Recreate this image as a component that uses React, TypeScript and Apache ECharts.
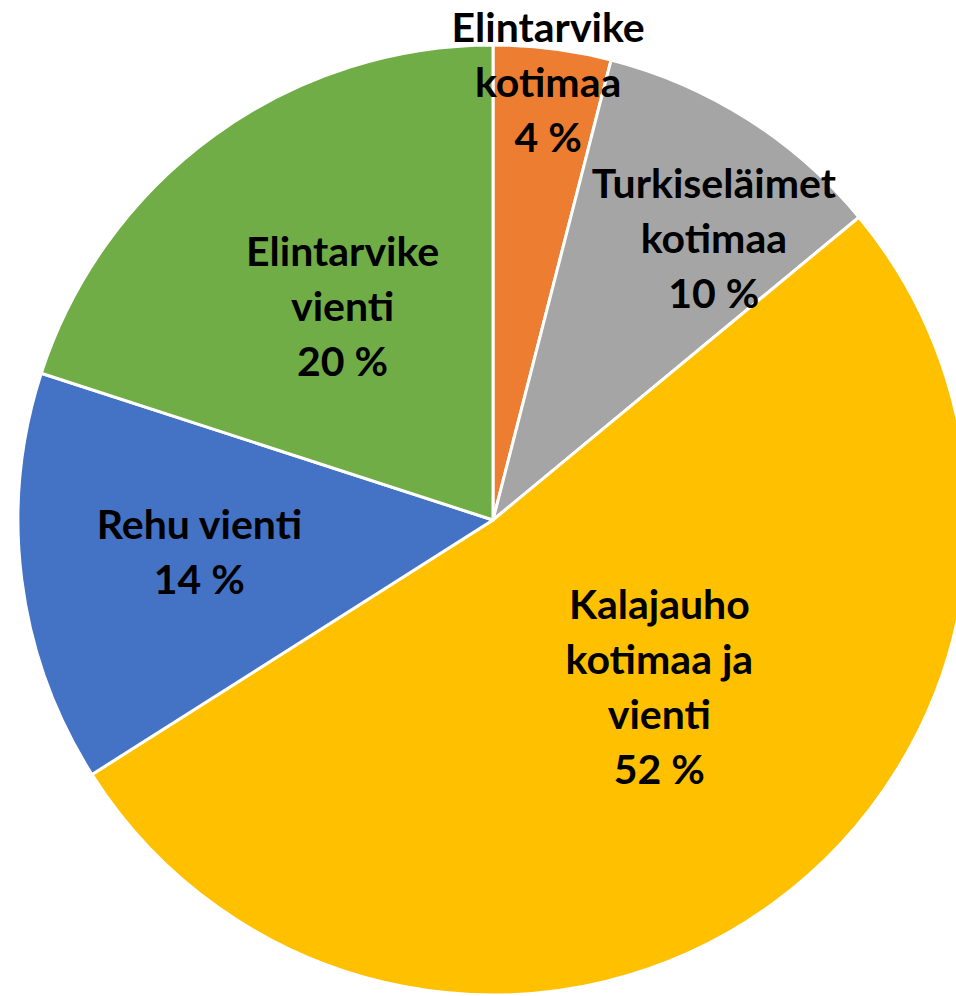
import React, { useEffect, useRef } from "react";
import * as echarts from "echarts";

const categories = [
  "Elintarvike kotimaa",
  "Turkiseläimet kotimaa",
  "Kalajauho kotimaa ja vienti",
  "Rehu vienti",
  "Elintarvike vienti",
];
const labelLines = [
  "Elintarvike\nkotimaa",
  "Turkiseläimet\nkotimaa",
  "Kalajauho\nkotimaa ja\nvienti",
  "Rehu vienti",
  "Elintarvike\nvienti",
];
const values = [4, 10, 52, 14, 20];
const colors = ["#ED7D31", "#A5A5A5", "#FFC000", "#4472C4", "#70AD47"];
const labelOffsets: [number, number][] = [
  [25, -200],
  [92, -79],
  [25, -29],
  [-55, 1],
  [-9, -20],
];

export default function App() {
  const ref = useRef<HTMLDivElement>(null);
  useEffect(() => {
    if (!ref.current) return;
    const chart = echarts.init(ref.current, undefined, { renderer: "svg" });
    chart.setOption({
      animation: false,
      backgroundColor: "#ffffff",
      series: [
        {
          type: "pie",
          center: [493, 520],
          radius: [0, 475],
          startAngle: 90,
          clockwise: true,
          avoidLabelOverlap: false,
          itemStyle: { borderColor: "#ffffff", borderWidth: 3 },
          label: {
            show: true,
            position: "inside",
            color: "#000000",
            fontFamily: "Lato",
            fontWeight: "bold",
            fontSize: 41,
            lineHeight: 55,
            align: "center",
            formatter: (p: any) => `${labelLines[p.dataIndex]}\n${p.value} %`,
          },
          labelLine: { show: false },
          labelLayout: (p: any) => ({
            dx: labelOffsets[p.dataIndex][0],
            dy: labelOffsets[p.dataIndex][1],
          }),
          emphasis: { disabled: true },
          data: categories.map((name, i) => ({
            name,
            value: values[i],
            itemStyle: { color: colors[i] },
          })),
        },
      ],
    });
    return () => chart.dispose();
  }, []);
  return (
    <div
      ref={ref}
      style={{ position: "absolute", left: 0, top: 0, width: 956, height: 996 }}
    />
  );
}
